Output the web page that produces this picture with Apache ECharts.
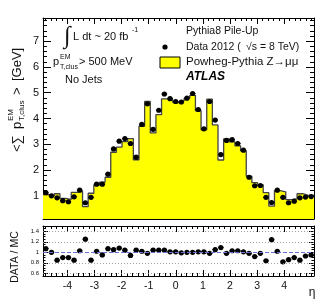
<!DOCTYPE html>
<html><head><meta charset="utf-8">
<script src="https://cdn.jsdelivr.net/npm/echarts@6/dist/echarts.min.js"></script>
<style>html,body{margin:0;padding:0;background:#fff}#c{width:329px;height:305px}</style>
</head><body><div id="c"></div>
<script>
// ---- data (bin centres as read against the eta axis) ----
const etaBins = [-4.796,-4.587,-4.379,-4.171,-3.962,-3.754,-3.546,-3.337,-3.129,-2.921,-2.712,-2.504,-2.296,-2.087,-1.879,-1.671,
                 -1.462,-1.254,-1.046,-0.837,-0.629,-0.421,-0.212,-0.004,0.204,0.412,0.621,0.829,1.037,1.246,1.454,1.662,
                 1.871,2.079,2.287,2.496,2.704,2.912,3.121,3.329,3.537,3.746,3.954,4.162,4.371,4.579,4.787,4.996];
const dataValues = [1.12,1.00,0.92,0.81,0.77,0.96,1.22,0.73,0.94,1.45,1.45,1.84,2.82,3.12,3.22,3.03,2.50,3.77,4.57,3.58,4.32,4.95,4.77,4.66,
                    4.64,4.79,4.97,4.35,3.60,4.66,3.94,2.60,3.15,3.18,3.03,2.77,1.72,1.39,1.40,0.94,0.74,1.22,0.94,0.73,0.79,0.92,0.95,0.97];
const mcValues = [1.05,1.00,1.08,0.90,0.86,1.13,1.18,0.58,1.10,1.42,1.53,1.72,2.69,2.89,3.10,3.22,2.40,3.70,4.66,3.44,4.15,4.76,4.72,4.62,
                  4.69,4.79,4.90,4.30,3.56,4.75,3.75,2.39,3.21,3.09,2.94,2.74,1.76,1.51,1.43,1.12,0.60,1.20,1.15,0.85,0.88,1.08,1.02,1.02];
const ratioValues = [1.07,1.00,0.85,0.90,0.90,0.85,1.03,1.25,0.85,1.02,0.95,1.07,1.05,1.08,1.04,0.94,1.04,1.02,0.98,1.04,1.04,1.04,1.01,1.01,
                     0.99,1.00,1.00,1.01,1.01,0.98,1.05,1.09,0.98,1.03,1.03,1.01,0.98,0.92,0.98,0.84,1.24,1.02,0.82,0.86,0.90,0.85,0.93,0.95];
const etaTicks = [-4,-3,-2,-1,0,1,2,3,4];
const yTicks = [1,2,3,4,5,6,7];
const ratioTicks = [0.6,0.8,1,1.2,1.4];
const ratioGridLines = [0.6,0.8,1.2,1.4];
const ratioRef = 1;

// ---- axis ranges ----
const ETA_MIN = -4.9, ETA_MAX = 5.1, BIN_HALF = 0.1042;
const Y_MIN = 0.1, Y_MAX = 7.9;
const R_MIN = 0.55, R_MAX = 1.5;

function steps(a, b, s) { const out = []; for (let v = a; v <= b + 1e-9; v += s) out.push(+v.toFixed(4)); return out; }
const etaMinor = steps(-4.8, 5.0, 0.2);
const yMinor = steps(0.2, 7.8, 0.2);
const rMinor = steps(0.55, 1.5, 0.05);

const FONT = 'Liberation Sans';
const chart = echarts.init(document.getElementById('c'), null, {renderer: 'canvas'});

function xAx(grid, pos, ticks, len, showLine, labels) {
  return {type: 'value', gridIndex: grid, position: pos, min: ETA_MIN, max: ETA_MAX,
    axisLine: {show: showLine, onZero: false, lineStyle: {color: '#000', width: 1}},
    axisTick: {show: true, inside: true, length: len, customValues: ticks, lineStyle: {color: '#000', width: 1}},
    axisLabel: labels ? {show: true, customValues: ticks, fontFamily: FONT, fontSize: 10.5, color: '#111', margin: 5,
                         formatter: v => (v < 0 ? '-' + Math.abs(v) : '' + v)} : {show: false},
    splitLine: {show: false}};
}
function yAx(grid, pos, min, max, ticks, len, showLine, labels, fs) {
  return {type: 'value', gridIndex: grid, position: pos, min: min, max: max,
    axisLine: {show: showLine, onZero: false, lineStyle: {color: '#000', width: 1}},
    axisTick: {show: true, inside: true, length: len, customValues: ticks, lineStyle: {color: '#000', width: 1}},
    axisLabel: labels ? {show: true, customValues: ticks, fontFamily: FONT, fontSize: fs, color: '#111', margin: 4} : {show: false},
    splitLine: {show: false}};
}

const mcStep = etaBins.map((c, i) => [c - BIN_HALF, mcValues[i]]);
mcStep.push([ETA_MAX, mcValues[mcValues.length - 1]]);

function pointRenderer(params, api) {
  const x = api.value(0), y = api.value(1);
  const p = api.coord([x, y]);
  const l = api.coord([x - BIN_HALF, y]);
  const r = api.coord([x + BIN_HALF, y]);
  return {type: 'group', children: [
    {type: 'line', shape: {x1: l[0], y1: p[1], x2: r[0], y2: p[1]}, style: {stroke: '#000', lineWidth: 1}},
    {type: 'circle', shape: {cx: p[0], cy: p[1], r: 2.6}, style: {fill: '#000'}}
  ]};
}

const option = {
  animation: false,
  backgroundColor: '#fff',
  grid: [
    {left: 43, top: 18, width: 271, height: 201},
    {left: 43, top: 226, width: 271, height: 50}
  ],
  xAxis: [
    xAx(0, 'bottom', etaMinor, 3, true, false),
    xAx(0, 'bottom', etaTicks, 6, false, false),
    xAx(0, 'top', etaMinor, 3, true, false),
    xAx(0, 'top', etaTicks, 6, false, false),
    xAx(1, 'bottom', etaMinor, 3, true, false),
    xAx(1, 'bottom', etaTicks, 6, false, true),
    xAx(1, 'top', etaMinor, 3, true, false),
    xAx(1, 'top', etaTicks, 6, false, false)
  ],
  yAxis: [
    yAx(0, 'left', Y_MIN, Y_MAX, yMinor, 4, true, false, 11),
    yAx(0, 'left', Y_MIN, Y_MAX, yTicks, 8, false, true, 11),
    yAx(0, 'right', Y_MIN, Y_MAX, yMinor, 4, true, false, 11),
    yAx(0, 'right', Y_MIN, Y_MAX, yTicks, 8, false, false, 11),
    yAx(1, 'left', R_MIN, R_MAX, rMinor, 2.5, true, false, 6),
    yAx(1, 'left', R_MIN, R_MAX, ratioTicks, 5, false, true, 6),
    yAx(1, 'right', R_MIN, R_MAX, rMinor, 2.5, true, false, 6),
    yAx(1, 'right', R_MIN, R_MAX, ratioTicks, 5, false, false, 6)
  ],
  series: [
    {type: 'line', name: 'MC', xAxisIndex: 0, yAxisIndex: 0, step: 'end', data: mcStep, symbol: 'none',
     lineStyle: {color: '#444', width: 1.3}, areaStyle: {color: '#ffff00', opacity: 1, origin: 'start'}, z: 2},
    {type: 'custom', name: 'Data', xAxisIndex: 0, yAxisIndex: 0, clip: true, z: 4,
     data: etaBins.map((c, i) => [c, dataValues[i]]), renderItem: pointRenderer},
    {type: 'custom', name: 'Ratio', xAxisIndex: 4, yAxisIndex: 4, clip: true, z: 4,
     data: etaBins.map((c, i) => [c, ratioValues[i]]), renderItem: pointRenderer,
     markLine: {silent: true, symbol: 'none', label: {show: false},
       data: ratioGridLines.map(v => ({yAxis: v, lineStyle: {color: '#888', type: [1, 2], width: 0.8}}))
         .concat([{yAxis: ratioRef, lineStyle: {color: '#6b6bd6', type: [4, 2], width: 1}}])}}
  ],
  graphic: [
    // main y-axis title, rotated
    {type: 'group', x: 17, y: 152, rotation: Math.PI / 2, children: [
      {type: 'text', x: 0, y: 0, style: {text: '<∑', font: '13px ' + FONT, fill: '#111', textVerticalAlign: 'middle'}},
      {type: 'text', x: 23, y: 0, style: {text: 'p', font: '13px ' + FONT, fill: '#111', textVerticalAlign: 'middle'}},
      {type: 'text', x: 31, y: -6, style: {text: 'EM', font: '8px ' + FONT, fill: '#111', textVerticalAlign: 'middle'}},
      {type: 'text', x: 31, y: 5, style: {text: 'T,clus', font: '8px ' + FONT, fill: '#111', textVerticalAlign: 'middle'}},
      {type: 'text', x: 57, y: 0, style: {text: '>', font: '13px ' + FONT, fill: '#111', textVerticalAlign: 'middle'}},
      {type: 'text', x: 71, y: 0, style: {text: '[GeV]', font: '13px ' + FONT, fill: '#111', textVerticalAlign: 'middle'}}
    ]},
    {type: 'text', x: 15, y: 257, rotation: Math.PI / 2,
     style: {text: 'DATA / MC', font: '10.5px ' + FONT, fill: '#111', textAlign: 'center', textVerticalAlign: 'middle'}},
    {type: 'text', x: 312, y: 293, style: {text: 'η', font: '12px ' + FONT, fill: '#111', textAlign: 'center', textVerticalAlign: 'middle'}},
    // left annotations
    {type: 'text', x: 64, y: 37, style: {text: '∫', font: '24px Liberation Serif', fill: '#111', textVerticalAlign: 'middle'}},
    {type: 'text', x: 73, y: 37, style: {text: 'L dt ~ 20 fb', font: '11px ' + FONT, fill: '#111', textVerticalAlign: 'middle'}},
    {type: 'text', x: 132, y: 30, style: {text: '-1', font: '7px ' + FONT, fill: '#111', textVerticalAlign: 'middle'}},
    {type: 'text', x: 53, y: 62, style: {text: 'p', font: '11px ' + FONT, fill: '#111', textVerticalAlign: 'middle'}},
    {type: 'text', x: 60, y: 57, style: {text: 'EM', font: '7px ' + FONT, fill: '#111', textVerticalAlign: 'middle'}},
    {type: 'text', x: 60, y: 67, style: {text: 'T,clus', font: '7px ' + FONT, fill: '#111', textVerticalAlign: 'middle'}},
    {type: 'text', x: 79, y: 62, style: {text: '> 500 MeV', font: '11px ' + FONT, fill: '#111', textVerticalAlign: 'middle'}},
    {type: 'text', x: 65, y: 80, style: {text: 'No Jets', font: '11px ' + FONT, fill: '#111', textVerticalAlign: 'middle'}},
    // legend
    {type: 'text', x: 186, y: 31, style: {text: 'Pythia8 Pile-Up', font: '10.5px ' + FONT, fill: '#111', textVerticalAlign: 'middle'}},
    {type: 'circle', shape: {cx: 165, cy: 47, r: 2.6}, style: {fill: '#000'}},
    {type: 'text', x: 186, y: 47, style: {text: 'Data 2012 (', font: '10.5px ' + FONT, fill: '#111', textVerticalAlign: 'middle'}},
    {type: 'text', x: 246, y: 47, style: {text: '√s = 8 TeV)', font: '10.5px ' + FONT, fill: '#111', textVerticalAlign: 'middle'}},
    {type: 'rect', shape: {x: 160, y: 57, width: 20, height: 11}, style: {fill: '#ffff00', stroke: '#000', lineWidth: 1}},
    {type: 'text', x: 186, y: 62, style: {text: 'Powheg-Pythia Z→μμ', font: '11.5px ' + FONT, fill: '#111', textVerticalAlign: 'middle'}},
    {type: 'text', x: 186, y: 77, style: {text: 'ATLAS', font: 'italic bold 12px ' + FONT, fill: '#000', textVerticalAlign: 'middle'}}
  ]
};
chart.setOption(option);
</script>
</body></html>
